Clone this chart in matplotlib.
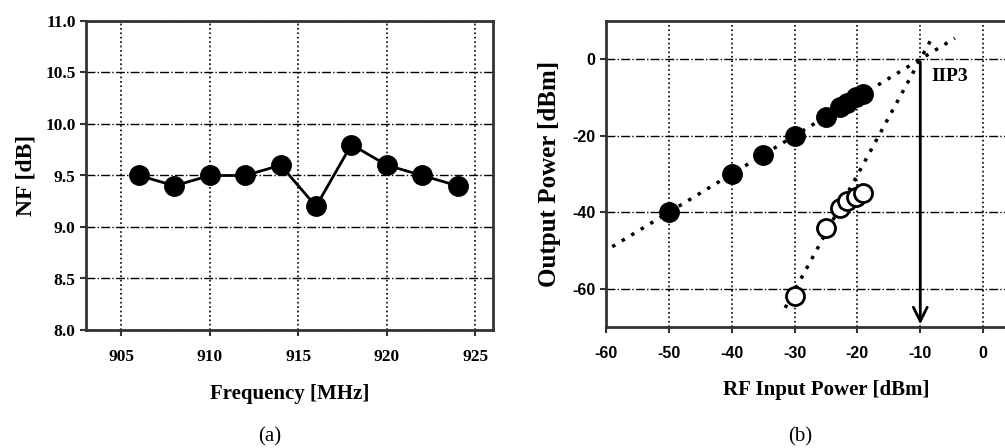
import matplotlib
matplotlib.use('Agg')
import matplotlib.pyplot as plt

plt.rcParams['axes.unicode_minus'] = False

# (a) noise figure vs frequency
freq = [906, 908, 910, 912, 914, 916, 918, 920, 922, 924]
nf = [9.5, 9.4, 9.5, 9.5, 9.6, 9.2, 9.8, 9.6, 9.5, 9.4]

# (b) fundamental and IM3 output power
pin_fund = [-50, -40, -35, -30, -25, -22.7, -21.6, -20.3, -19.1]
pout_fund = [-40, -30, -25, -20, -15, -12.5, -11.5, -10, -9]
pin_im3 = [-30, -25, -22.7, -21.6, -20.3, -19.1]
pout_im3 = [-62, -44, -39, -37, -36, -35]

# extrapolated lines
fund_x = [-59, -4.5]
fund_y = [-49, 5.5]
im3_x = [-31.5, -8.3]
im3_y = [-65, 5.1]
iip3_x = -10

serif = ['Liberation Serif', 'DejaVu Serif']
sans = ['Liberation Sans', 'DejaVu Sans']

fig = plt.figure(figsize=(10.05, 4.48), dpi=100)
W, H = 1005, 448

ax1 = fig.add_axes([86 / W, 1 - 330 / H, 407 / W, 309 / H])
ax2 = fig.add_axes([606 / W, 1 - 327 / H, 440 / W, 306 / H])

for ax in (ax1, ax2):
    for sp in ax.spines.values():
        sp.set_linewidth(2)
        sp.set_color('#333333')
    ax.tick_params(direction='out', length=4, width=1.5, color='#333333')
    ax.tick_params(axis='x', pad=10)
    ax.set_axisbelow(True)

# --- panel (a)
ax1.plot(freq, nf, '-o', color='black', lw=2, ms=14)
ax1.set_xlim(903, 926)
ax1.set_ylim(8, 11)
ax1.set_xticks([905, 910, 915, 920, 925])
ax1.set_yticks([8.0, 8.5, 9.0, 9.5, 10.0, 10.5, 11.0])
ax1.set_yticklabels(['%.1f' % v for v in ax1.get_yticks()])
ax1.xaxis.grid(True, linestyle=':', color='black', lw=1.2)
ax1.yaxis.grid(True, linestyle='-.', color='black', lw=1)
for lab in ax1.get_xticklabels() + ax1.get_yticklabels():
    lab.set_family(serif)
    lab.set_fontweight('bold')
    lab.set_fontsize(12.5)
ax1.set_xlabel('Frequency [MHz]', family=serif, fontweight='bold', fontsize=15, labelpad=13)
ax1.set_ylabel('NF [dB]', family=serif, fontweight='bold', fontsize=17, labelpad=6)

# --- panel (b)
ax2.plot(fund_x, fund_y, linestyle=(0, (1, 2.2)), color='black', lw=2.5)
ax2.plot(im3_x, im3_y, linestyle=(0, (1, 2.2)), color='black', lw=2.5)
ax2.plot(pin_fund, pout_fund, 'o', color='black', ms=14, ls='none')
ax2.plot(pin_im3, pout_im3, 'o', mfc='white', mec='black', mew=2, ms=13, ls='none')
ax2.annotate('', xy=(iip3_x, -70), xytext=(iip3_x, 0),
             arrowprops=dict(arrowstyle='->', color='black', lw=2, mutation_scale=25))
ax2.text(-8.3, -4.5, 'IIP3', family=serif, fontweight='bold', fontsize=14, va='center')
ax2.set_xlim(-60, 10)
ax2.set_ylim(-70, 10)
ax2.set_xticks([-60, -50, -40, -30, -20, -10, 0])
ax2.set_yticks([-60, -40, -20, 0])
ax2.xaxis.grid(True, linestyle=':', color='black', lw=1.2)
ax2.yaxis.grid(True, linestyle='-.', color='black', lw=1)
for lab in ax2.get_xticklabels() + ax2.get_yticklabels():
    lab.set_family(sans)
    lab.set_fontweight('bold')
    lab.set_fontsize(11.5)
ax2.set_xlabel('RF Input Power [dBm]', family=serif, fontweight='bold', fontsize=15, labelpad=13)
ax2.set_ylabel('Output Power [dBm]', family=serif, fontweight='bold', fontsize=18, labelpad=8)

fig.text(270 / W, 1 - 437 / H, '(a)', family=serif, fontsize=15, ha='center', va='center')
fig.text(800 / W, 1 - 437 / H, '(b)', family=serif, fontsize=15, ha='center', va='center')

fig.savefig('out.png', dpi=100)
